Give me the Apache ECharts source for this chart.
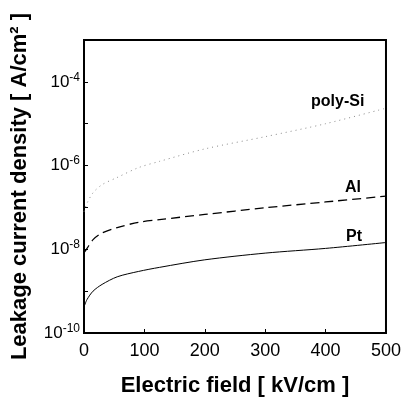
<!DOCTYPE html>
<html>
<head>
<meta charset="utf-8">
<script src="https://cdn.jsdelivr.net/npm/echarts@6/dist/echarts.min.js"></script>
<style>
  html, body { margin: 0; padding: 0; background: #fff; }
  #chart { width: 404px; height: 402px; }
</style>
</head>
<body>
<div id="chart"></div>
<script>
// electric field [kV/cm]
const fieldValues = [0, 5, 15, 30, 55, 90, 125, 200, 300, 400, 500];
// leakage current density [A/cm2]
const polySiValues = [7.9e-8, 1.26e-7, 2.24e-7, 3.5e-7, 5.2e-7, 8.9e-7, 1.26e-6, 2.5e-6, 4.9e-6, 1.0e-5, 2.35e-5];
const alValues = [8.3e-9, 1.05e-8, 1.7e-8, 2.45e-8, 3.3e-8, 4.4e-8, 5.1e-8, 6.8e-8, 9.8e-8, 1.35e-7, 1.86e-7];
const ptValues = [4.2e-10, 6.3e-10, 1.0e-9, 1.45e-9, 2.2e-9, 2.95e-9, 3.7e-9, 5.6e-9, 8.1e-9, 1.05e-8, 1.45e-8];
const xTicks = [0, 100, 200, 300, 400, 500];
const yLabelExps = [-10, -8, -6, -4];

const font = "Liberation Sans";
const toPairs = vals => fieldValues.map((x, i) => [x, vals[i]]);

const chart = echarts.init(document.getElementById("chart"));

const option = {
  backgroundColor: "#fff",
  animation: false,
  textStyle: { fontFamily: font },
  grid: {
    left: 84, right: 18, top: 40, bottom: 69,
    show: true, borderColor: "#000", borderWidth: 2
  },
  xAxis: {
    type: "value",
    min: 0, max: 500, interval: 100,
    name: "Electric field [ kV/cm ]",
    nameLocation: "middle",
    nameGap: 42,
    nameTextStyle: { fontFamily: font, fontSize: 22, fontWeight: "bold", color: "#000" },
    axisLine: { lineStyle: { color: "#000", width: 2 } },
    axisTick: { inside: true, length: 4, lineStyle: { color: "#000" } },
    splitLine: { show: false },
    axisLabel: {
      margin: 9, fontFamily: font, fontSize: 18, color: "#000",
      formatter: v => xTicks.includes(v) ? String(v) : ""
    }
  },
  yAxis: {
    type: "log",
    logBase: 10,
    min: 1e-10, max: 1e-3, interval: 1,
    name: "Leakage current density [ A/cm\u00b2 ]",
    nameLocation: "middle",
    nameGap: 53,
    nameTextStyle: { fontFamily: font, fontSize: 22, fontWeight: "bold", color: "#000" },
    axisLine: { lineStyle: { color: "#000", width: 2 } },
    axisTick: { inside: true, length: 4, lineStyle: { color: "#000" } },
    splitLine: { show: false },
    minorTick: { show: false },
    axisLabel: {
      margin: 4,
      formatter: v => {
        const e = Math.round(Math.log10(v));
        return yLabelExps.includes(e) ? "{b|10}{s|" + e + "}" : "";
      },
      rich: {
        b: { fontFamily: font, fontSize: 17, color: "#000" },
        s: { fontFamily: font, fontSize: 12, color: "#000", verticalAlign: "top", padding: [0, 0, 9, 0] }
      }
    }
  },
  series: [
    {
      name: "poly-Si", type: "line", data: toPairs(polySiValues),
      smooth: 0.3, showSymbol: false,
      lineStyle: { color: "#8a8a8a", width: 1, type: [1, 4] }
    },
    {
      name: "Al", type: "line", data: toPairs(alValues),
      smooth: 0.3, showSymbol: false,
      lineStyle: { color: "#000", width: 1.3, type: [9, 5] }
    },
    {
      name: "Pt", type: "line", data: toPairs(ptValues),
      smooth: 0.3, showSymbol: false,
      lineStyle: { color: "#000", width: 1 }
    }
  ],
  graphic: [
    { type: "text", left: 311, top: 94, style: { text: "poly-Si", font: "bold 16px " + font, fill: "#000" } },
    { type: "text", left: 345, top: 180, style: { text: "Al", font: "bold 16px " + font, fill: "#000" } },
    { type: "text", left: 346, top: 229, style: { text: "Pt", font: "bold 16px " + font, fill: "#000" } }
  ]
};

chart.setOption(option);
</script>
</body>
</html>
